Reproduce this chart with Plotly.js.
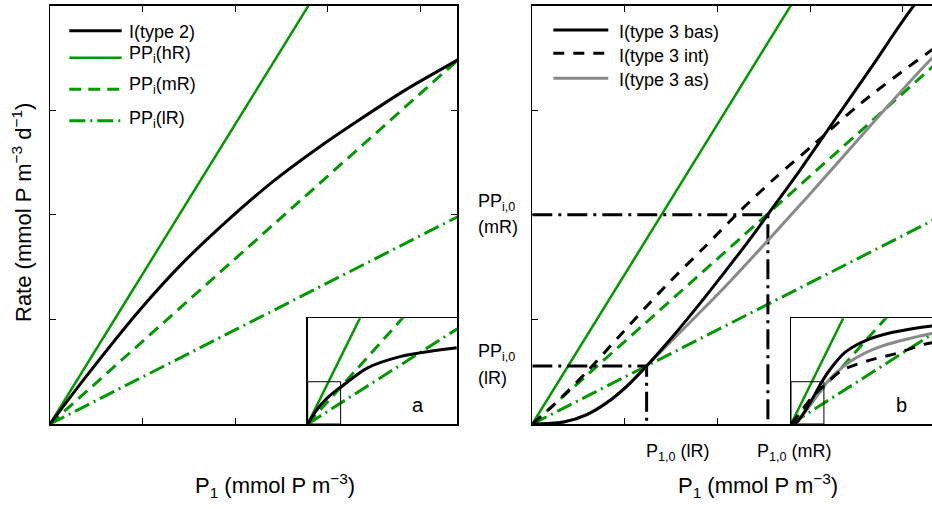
<!DOCTYPE html>
<html>
<head>
<meta charset="utf-8">
<script src="https://cdn.plot.ly/plotly-3.0.1.min.js"></script>
<style>
html,body{margin:0;padding:0;overflow:hidden;background:#fff;}
#chart{width:944px;height:509px;}
</style>
</head>
<body>
<div id="chart"></div>
<script>
// ---------- data ----------
// P1 values (x) and rates (y); main panels show x 0..4.4, insets show 0..20
const type2X = [0, 0.36, 0.97, 1.40, 1.91, 2.41, 2.88, 3.31, 3.85, 4.40, 7.89, 12.34, 16.79, 19.92];
const type2Y = [0, 0.42, 1.09, 1.51, 1.94, 2.32, 2.63, 2.89, 3.20, 3.48, 5.27, 6.37, 6.93, 7.22];

const hRX = [0, 7.0];   const hRY = [0, 10.03];
const mRX = [0, 20];    const mRY = [0, 15.8];
const lRX = [0, 20];    const lRY = [0, 9.0];

const basX = [0, 0.34, 0.59, 0.80, 1.02, 1.235, 1.51, 1.79, 2.08, 2.37, 2.55, 2.91, 3.27, 3.67, 4.13, 5.44, 7.22, 9.89, 13.46, 18.81, 20];
const basY = [0, 0.02, 0.09, 0.20, 0.36, 0.555, 0.83, 1.13, 1.455, 1.79, 2.01, 2.45, 2.91, 3.42, 4.01, 5.37, 6.78, 7.87, 8.65, 9.28, 9.35];

const intX = [0, 0.23, 0.59, 0.93, 1.43, 1.87, 2.26, 2.62, 3.05, 3.54, 4.32, 6.78, 10.33, 13.9, 17.9, 20];
const intY = [0, 0.18, 0.50, 0.83, 1.31, 1.70, 2.05, 2.35, 2.68, 3.06, 3.58, 5.06, 6.00, 6.63, 7.56, 7.80];

const asX = [0, 0.34, 0.59, 0.80, 1.02, 1.235, 1.60, 2.08, 2.55, 3.00, 3.68, 4.32, 5.44, 8.11, 11.67, 18.81, 20];
const asY = [0, 0.02, 0.09, 0.20, 0.36, 0.555, 0.88, 1.31, 1.76, 2.20, 2.88, 3.50, 4.43, 6.00, 7.25, 8.56, 8.70];

// thresholds P1,0 and PPi,0 for lR and mR
const p10 = [1.235, 2.545];
const pp0 = [0.555, 2.0];

// axis ranges
const mainX = [0, 4.4], mainY = [0, 4];
const insetX = [0, 20], insetY = [0, 10];

// legend entries
const legendAText = ['I(type 2)', 'PP<sub>i</sub>(hR)', 'PP<sub>i</sub>(mR)', 'PP<sub>i</sub>(lR)'];
const legendBText = ['I(type 3 bas)', 'I(type 3 int)', 'I(type 3 as)'];

// ---------- styling ----------
const W = 944, H = 509;
const FONT = 'Liberation Sans, Arial, Helvetica, sans-serif';
const GREEN = '#009900', GRAY = '#8a8a8a';
const fx = v => v / W, fy = v => 1 - v / H;

const D_GDASH = '12px,7px', D_GDOT = '16px,5px,2px,5px', D_KDASH = '11px,9px', D_KDOT = '20px,6px,3px,6px';
const ST = {
  t2:  {color: 'black', width: 3, dash: 'solid'},
  hR:  {color: GREEN, width: 2.5, dash: 'solid'},
  mR:  {color: GREEN, width: 3, dash: D_GDASH},
  lR:  {color: GREEN, width: 3, dash: D_GDOT},
  bas: {color: 'black', width: 3, dash: 'solid'},
  int: {color: 'black', width: 3, dash: D_KDASH},
  as:  {color: GRAY, width: 3, dash: 'solid'},
  ref: {color: 'black', width: 3, dash: D_KDOT}
};

function tr(x, y, ax, name, st, linear) {
  return {x: x, y: y, xaxis: ax[0], yaxis: ax[1], type: 'scatter', mode: 'lines', name: name,
    line: {color: st.color, width: st.width, dash: st.dash, shape: linear ? 'linear' : 'spline', smoothing: 0.8},
    showlegend: false, hoverinfo: 'skip'};
}

const A = ['x', 'y'], B = ['x2', 'y2'], IA = ['x3', 'y3'], IB = ['x4', 'y4'];
const traces = [];
// panel a
traces.push(tr(hRX, hRY, A, 'PPi(hR)', ST.hR, true));
traces.push(tr(mRX, mRY, A, 'PPi(mR)', ST.mR, true));
traces.push(tr(lRX, lRY, A, 'PPi(lR)', ST.lR, true));
traces.push(tr(type2X, type2Y, A, 'I(type 2)', ST.t2));
// inset a
traces.push(tr(hRX, hRY, IA, 'PPi(hR)', ST.hR, true));
traces.push(tr(mRX, mRY, IA, 'PPi(mR)', ST.mR, true));
traces.push(tr(lRX, lRY, IA, 'PPi(lR)', ST.lR, true));
traces.push(tr(type2X, type2Y, IA, 'I(type 2)', ST.t2));
// panel b
traces.push(tr(hRX, hRY, B, 'PPi(hR)', ST.hR, true));
traces.push(tr(mRX, mRY, B, 'PPi(mR)', ST.mR, true));
traces.push(tr(lRX, lRY, B, 'PPi(lR)', ST.lR, true));
for (let i = 0; i < p10.length; i++) {
  traces.push(tr([0, p10[i], p10[i]], [pp0[i], pp0[i], 0], B, 'threshold', ST.ref, true));
}
traces.push(tr(asX, asY, B, 'I(type 3 as)', ST.as));
traces.push(tr(intX, intY, B, 'I(type 3 int)', ST.int));
traces.push(tr(basX, basY, B, 'I(type 3 bas)', ST.bas));
// inset b
traces.push(tr(hRX, hRY, IB, 'PPi(hR)', ST.hR, true));
traces.push(tr(mRX, mRY, IB, 'PPi(mR)', ST.mR, true));
traces.push(tr(lRX, lRY, IB, 'PPi(lR)', ST.lR, true));
traces.push(tr(asX, asY, IB, 'I(type 3 as)', ST.as));
traces.push(tr(intX, intY, IB, 'I(type 3 int)', ST.int));
traces.push(tr(basX, basY, IB, 'I(type 3 bas)', ST.bas));

const mainAxis = {showline: true, linecolor: 'black', linewidth: 1.5, mirror: 'ticks', ticks: 'inside',
  ticklen: 6, tickwidth: 1, tickcolor: 'black', dtick: 1, tick0: 0, showticklabels: false,
  showgrid: false, zeroline: false, fixedrange: true};
const insetAxis = {showline: true, linecolor: 'black', linewidth: 1.5, mirror: true, ticks: '',
  showticklabels: false, showgrid: false, zeroline: false, fixedrange: true};

const yMainDom = [fy(424), fy(5.7)], yInsetDom = [fy(424), fy(318.3)];

const ann = [];
function txt(x, y, text, size, opts) {
  ann.push(Object.assign({xref: 'paper', yref: 'paper', x: fx(x), y: fy(y), text: text, showarrow: false,
    font: {family: FONT, size: size, color: 'black'}, xanchor: 'center', yanchor: 'middle'}, opts || {}));
}
txt(22, 213, 'Rate (mmol P m<sup>−3</sup> d<sup>−1</sup>)', 22, {textangle: -90});
txt(275, 485, 'P<sub>1</sub> (mmol P m<sup>−3</sup>)', 22);
txt(758, 485, 'P<sub>1</sub> (mmol P m<sup>−3</sup>)', 22);
txt(476, 202, 'PP<sub>i,0</sub>', 18, {xanchor: 'left'});
txt(476, 227, '(mR)', 18, {xanchor: 'left'});
txt(476, 352, 'PP<sub>i,0</sub>', 18, {xanchor: 'left'});
txt(476, 378, '(lR)', 18, {xanchor: 'left'});
txt(644, 452, 'P<sub>1,0</sub> (lR)', 18, {xanchor: 'left'});
txt(755, 452, 'P<sub>1,0</sub> (mR)', 18, {xanchor: 'left'});
txt(418.3, 405, 'a', 20);
txt(901.7, 405, 'b', 20);

// legends (swatch line + label)
const shapes = [
  {type: 'rect', xref: 'x3', yref: 'y3', x0: mainX[0], x1: mainX[1], y0: mainY[0], y1: mainY[1], line: {color: 'black', width: 1}},
  {type: 'rect', xref: 'x4', yref: 'y4', x0: mainX[0], x1: mainX[1], y0: mainY[0], y1: mainY[1], line: {color: 'black', width: 1}}
];
function legendRow(x0, x1, ly, tx, ty, text, st) {
  shapes.push({type: 'line', xref: 'paper', yref: 'paper', x0: fx(x0), x1: fx(x1), y0: fy(ly), y1: fy(ly),
    line: {color: st.color, width: st.width, dash: st.dash}});
  txt(tx, ty, text, 18, {xanchor: 'left'});
}
const legAStyles = [ST.t2, ST.hR, ST.mR, ST.lR];
const legALineY = [30.7, 57.7, 89.3, 120.7], legATextY = [32, 54, 86, 119];
legendAText.forEach((t, i) => legendRow(69.3, 121.7, legALineY[i], 127, legATextY[i], t, legAStyles[i]));
const legBStyles = [ST.bas, ST.int, ST.as];
const legBLineY = [30, 53.3, 78.3], legBTextY = [32, 56, 80];
legendBText.forEach((t, i) => legendRow(553.3, 608.3, legBLineY[i], 617, legBTextY[i], t, legBStyles[i]));

const layout = {
  width: W, height: H, margin: {l: 0, r: 0, t: 0, b: 0, autoexpand: false},
  paper_bgcolor: 'white', plot_bgcolor: 'white', showlegend: false,
  font: {family: FONT, size: 18, color: 'black'},
  xaxis: Object.assign({}, mainAxis, {domain: [fx(50), fx(457.3)], range: mainX, anchor: 'y'}),
  yaxis: Object.assign({}, mainAxis, {domain: yMainDom, range: mainY, anchor: 'x'}),
  xaxis2: Object.assign({}, mainAxis, {domain: [fx(532.3), fx(939.6)], range: mainX, anchor: 'y2'}),
  yaxis2: Object.assign({}, mainAxis, {domain: yMainDom, range: mainY, anchor: 'x2'}),
  xaxis3: Object.assign({}, insetAxis, {domain: [fx(307.7), fx(457.3)], range: insetX, anchor: 'y3'}),
  yaxis3: Object.assign({}, insetAxis, {domain: yInsetDom, range: insetY, anchor: 'x3'}),
  xaxis4: Object.assign({}, insetAxis, {domain: [fx(791), fx(940.6)], range: insetX, anchor: 'y4'}),
  yaxis4: Object.assign({}, insetAxis, {domain: yInsetDom, range: insetY, anchor: 'x4'}),
  shapes: shapes,
  annotations: ann
};

Plotly.newPlot('chart', traces, layout, {staticPlot: true, displayModeBar: false});
</script>
</body>
</html>
